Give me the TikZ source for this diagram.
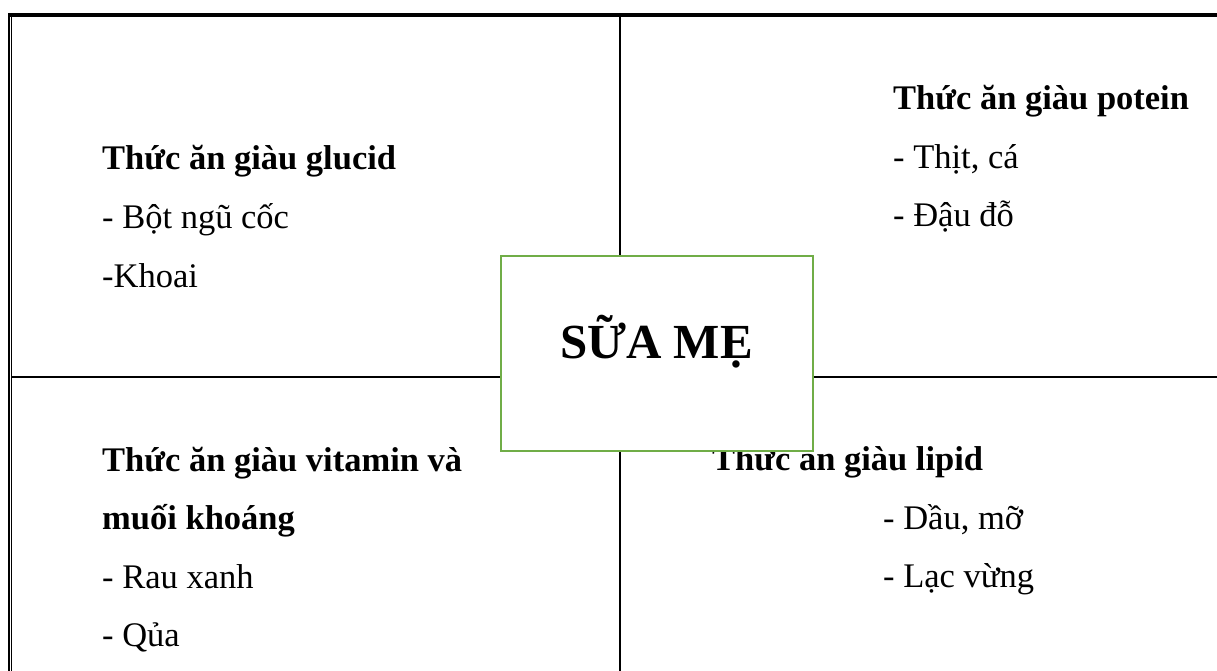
\documentclass[tikz,border=0pt]{standalone}
\usepackage{fontspec}
\setmainfont{Liberation Serif}
\definecolor{boxgreen}{HTML}{70AD47}
\tikzset{
  rule/.style={draw=black, line width=2.8bp},
  txt/.style={anchor=base west, inner sep=0pt, font=\fontsize{34.5bp}{40bp}\selectfont},
  head/.style={txt, font=\fontsize{34.5bp}{40bp}\selectfont\bfseries},
  milkbox/.style={draw=boxgreen, line width=2.6bp, fill=white, minimum width=312bp, minimum height=195bp, inner sep=0pt},
  milktext/.style={anchor=base, inner sep=0pt, font=\fontsize{49bp}{56bp}\selectfont\bfseries}
}
\begin{document}
\begin{tikzpicture}[x=1bp, y=-1bp]
\useasboundingbox (0,0) rectangle (1217,671);
% table frame
\draw[line width=3.8bp] (8,14.85) -- (1217,14.85);
\draw[line width=2.4bp] (9.15,13) -- (9.15,671);
\draw[line width=1.4bp] (11.75,16.7) -- (11.75,671);
\draw[rule] (620,16.7) -- (620,671);
\draw[rule] (12.4,377) -- (1217,377);
% top-left cell
\node[head] (gh) at (102,170) {Thức ăn giàu glucid};
\node[txt] (g1) at (102,229) {- Bột ngũ cốc};
\node[txt] (g2) at (102,287) {-Khoai};
% top-right cell
\node[head] (ph) at (893,110) {Thức ăn giàu potein};
\node[txt] (p1) at (893,169) {- Thịt, cá};
\node[txt] (p2) at (893,227) {- Đậu đỗ};
% bottom-left cell
\node[head] (vh) at (102,471) {Thức ăn giàu vitamin và};
\node[head] (vh2) at (102,529) {muối khoáng};
\node[txt] (v1) at (102,588) {- Rau xanh};
\node[txt] (v2) at (102,646) {- Qủa};
% bottom-right cell
\node[head] (lh) at (712,470) {Thức ăn giàu lipid};
\node[txt] (l1) at (883,529) {- Dầu, mỡ};
\node[txt] (l2) at (883,587) {- Lạc vừng};
% centre box
\node[milkbox] (milk) at (657,353.5) {};
\node[milktext] (milkt) at (656.5,358) {SỮA MẸ};
\end{tikzpicture}
\end{document}
